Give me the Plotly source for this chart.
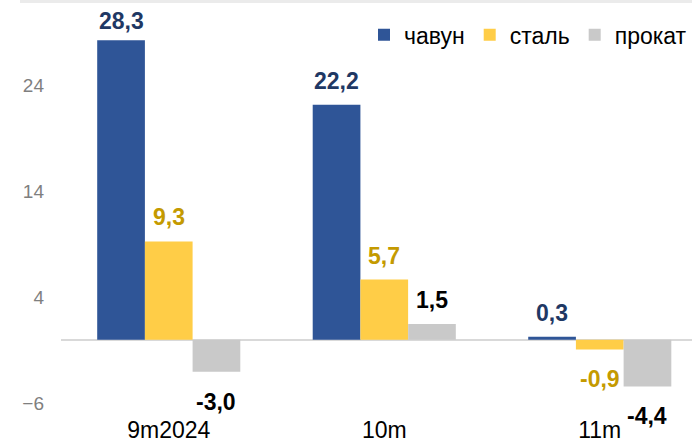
import plotly.graph_objects as go

categories = ["9m2024", "10m", "11m"]
series_names = ["чавун", "сталь", "прокат"]
pig_iron = [28.3, 22.2, 0.3]
steel = [9.3, 5.7, -0.9]
rolled = [-3.0, 1.5, -4.4]
y_ticks = [-6, 4, 14, 24]

bar_colors = ["#2F5597", "#FFCD47", "#C9C9C9"]
label_colors = ["#1F3864", "#C49A00", "#000000"]

FONT = "Liberation Sans, Arial, sans-serif"

WIDTH, HEIGHT = 692, 443
MARGIN = dict(l=61, r=0, t=1, b=29)
Y_RANGE = [-7, 32]
BARGAP = 0.336


def fmt(v):
    return f"{v:.1f}".replace(".", ",")


plot_h = HEIGHT - MARGIN["t"] - MARGIN["b"]
px_per_unit = plot_h / (Y_RANGE[1] - Y_RANGE[0])

fig = go.Figure()
annotations = []
all_series = [pig_iron, steel, rolled]
n_series = len(all_series)
bar_w = (1 - BARGAP) / n_series

for si, (name, vals, bc, lc) in enumerate(zip(series_names, all_series, bar_colors, label_colors)):
    fig.add_trace(go.Bar(
        name=name,
        x=categories,
        y=vals,
        marker=dict(color=bc, line=dict(width=0)),
    ))
    # value labels placed just beyond the end of each bar
    for ci, v in enumerate(vals):
        if v >= 0:
            edge_px = MARGIN["t"] + (Y_RANGE[1] - v) * px_per_unit
            centre_px = max(edge_px - 24, 21)
            shift = edge_px - centre_px
        else:
            shift = -30
        annotations.append(dict(
            x=ci + (si - (n_series - 1) / 2) * bar_w,
            y=v,
            xref="x", yref="y",
            text=fmt(v),
            showarrow=False,
            xanchor="center", yanchor="middle",
            yshift=shift,
            font=dict(family=FONT, size=23, color=lc, weight="bold"),
        ))

fig.update_layout(
    width=WIDTH,
    height=HEIGHT,
    margin=MARGIN,
    paper_bgcolor="white",
    plot_bgcolor="white",
    barmode="group",
    bargap=BARGAP,
    bargroupgap=0,
    showlegend=True,
    legend=dict(
        orientation="h",
        x=1, xanchor="right",
        y=0.97, yanchor="top",
        font=dict(family=FONT, size=23, color="#000000"),
        itemwidth=30,
        traceorder="normal",
        bgcolor="rgba(0,0,0,0)",
    ),
    xaxis=dict(
        range=[-0.5, 2.428],
        showgrid=False,
        showline=False,
        zeroline=False,
        ticks="",
        tickfont=dict(family=FONT, size=23, color="#000000"),
    ),
    yaxis=dict(
        range=Y_RANGE,
        tickvals=y_ticks,
        showgrid=False,
        showline=False,
        zeroline=True,
        zerolinecolor="#D9D9D9",
        zerolinewidth=2,
        ticks="",
        ticklabelstandoff=16,
        tickfont=dict(family=FONT, size=19, color="#7F7F7F"),
    ),
    annotations=annotations,
    shapes=[dict(
        type="rect", xref="paper", yref="paper",
        x0=-0.065, x1=1.0,
        ysizemode="pixel", yanchor=1.0, y0=-2, y1=1,
        line=dict(width=0), fillcolor="#EBEBEB", layer="above",
    )],
)

fig.write_html("out.html")
